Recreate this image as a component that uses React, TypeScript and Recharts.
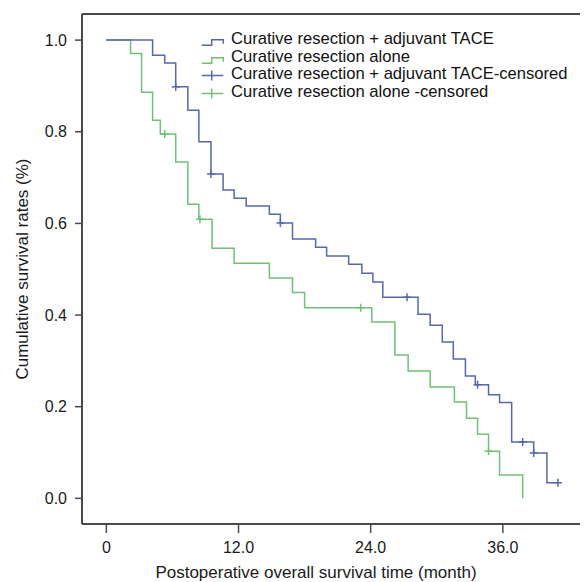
import React from 'react';
import { ComposedChart, Line, Scatter, XAxis, YAxis, Legend } from 'recharts';

// survival curves (time in months, cumulative survival)
const taceTimes = [0, 4.2, 5.3, 6.3, 7.4, 8.4, 9.5, 10.6, 11.6, 12.7, 14.8, 15.8, 16.9, 19.0, 20.0, 22.0, 23.2, 24.2, 25.1, 28.3, 29.4, 30.5, 31.5, 32.6, 33.5, 34.7, 35.7, 36.8, 38.8, 40.0, 41.0];
const taceSurvival = [1.0, 0.967, 0.95, 0.898, 0.847, 0.778, 0.708, 0.673, 0.655, 0.638, 0.62, 0.601, 0.566, 0.548, 0.529, 0.511, 0.491, 0.472, 0.439, 0.402, 0.378, 0.341, 0.304, 0.267, 0.248, 0.226, 0.209, 0.123, 0.099, 0.034, 0.034];
const taceCensorTimes = [6.3, 9.5, 15.8, 27.3, 33.7, 37.8, 38.8, 41.0];
const taceCensorSurvival = [0.898, 0.708, 0.601, 0.439, 0.248, 0.123, 0.099, 0.034];

const aloneTimes = [0, 2.2, 3.2, 4.2, 4.9, 6.3, 7.4, 8.4, 9.6, 11.6, 14.8, 16.9, 18.0, 24.1, 26.2, 27.4, 29.4, 31.6, 32.7, 33.7, 34.7, 35.7, 37.8];
const aloneSurvival = [1.0, 0.971, 0.886, 0.825, 0.795, 0.734, 0.642, 0.609, 0.546, 0.513, 0.481, 0.449, 0.416, 0.385, 0.313, 0.278, 0.243, 0.21, 0.175, 0.14, 0.103, 0.051, 0.0];
const aloneCensorTimes = [5.3, 8.5, 23.1, 34.7];
const aloneCensorSurvival = [0.795, 0.609, 0.416, 0.103];

const xTicks = [0, 12, 24, 36];
const xTickLabels = ['0', '12.0', '24.0', '36.0'];
const yTicks = [0, 0.2, 0.4, 0.6, 0.8, 1.0];

const legendLabels = [
  'Curative resection + adjuvant TACE',
  'Curative resection alone',
  'Curative resection + adjuvant TACE-censored',
  'Curative resection alone -censored',
];

const BLUE = '#5767aa';
const GREEN = '#72c076';
const AXIS = '#4a4a4a';
const FONT = '"Liberation Sans", Arial, sans-serif';

const toPoints = (times: number[], surv: number[]) => times.map((t, i) => ({ t, s: surv[i] }));

const taceData = toPoints(taceTimes, taceSurvival);
const aloneData = toPoints(aloneTimes, aloneSurvival);
const taceCensored = toPoints(taceCensorTimes, taceCensorSurvival);
const aloneCensored = toPoints(aloneCensorTimes, aloneCensorSurvival);

const legendColors = [BLUE, GREEN, BLUE, GREEN];

const censorShape = (color: string) => (props: any) => {
  const { cx, cy } = props;
  return (
    <g>
      <line x1={cx} x2={cx} y1={cy - 4} y2={cy + 4} stroke={color} strokeWidth={1.5} />
      <line x1={cx - 4} x2={cx + 4} y1={cy} y2={cy} stroke={color} strokeWidth={1.5} />
    </g>
  );
};

function KmLegend() {
  return (
    <div style={{ fontFamily: FONT, fontSize: 16.6, lineHeight: '17.5px', color: '#111', whiteSpace: 'nowrap' }}>
      {legendLabels.map((label, i) => (
        <div key={label} style={{ display: 'flex', alignItems: 'center', height: 17.5 }}>
          <svg width={31} height={17.5} style={{ display: 'block' }}>
            {i < 2 ? (
              <path d="M1.7,15.2 H11.7 V9.8 H23.3 V13.8" fill="none" stroke={legendColors[i]} strokeWidth={1.5} />
            ) : (
              <g stroke={legendColors[i]} strokeWidth={1.5}>
                <line x1={1.7} x2={23.3} y1={10.5} y2={10.5} />
                <line x1={11.7} x2={11.7} y1={5.5} y2={15.5} />
              </g>
            )}
          </svg>
          <span>{label}</span>
        </div>
      ))}
    </div>
  );
}

export default function App() {
  return (
    <div style={{ width: 580, height: 574 }}>
      <ComposedChart width={580} height={574} margin={{ top: 5, right: 0, bottom: 0, left: 0 }} style={{ fontFamily: FONT }}>
        <XAxis
          xAxisId="top"
          orientation="top"
          type="number"
          domain={[0, 1]}
          height={1}
          tick={false}
          tickLine={false}
          axisLine={{ stroke: AXIS, strokeWidth: 2 }}
        />
        <XAxis
          dataKey="t"
          type="number"
          domain={[-2.21, 43.73]}
          allowDataOverflow
          ticks={xTicks}
          tickFormatter={(v: number) => xTickLabels[xTicks.indexOf(v)]}
          height={58}
          tickSize={9}
          tickMargin={9}
          axisLine={{ stroke: AXIS, strokeWidth: 2 }}
          tickLine={{ stroke: AXIS, strokeWidth: 1.5 }}
          tick={{ fill: '#1a1a1a', fontSize: 16, fontFamily: FONT }}
          label={{
            value: 'Postoperative overall survival time (month)',
            position: 'insideBottom',
            offset: 4,
            dx: -19,
            style: { fill: '#1a1a1a', fontSize: 17, fontFamily: FONT },
          }}
        />
        <YAxis
          dataKey="s"
          type="number"
          domain={[-0.056, 1.057]}
          allowDataOverflow
          ticks={yTicks}
          tickFormatter={(v: number) => v.toFixed(1)}
          width={74}
          tickSize={7}
          tickMargin={8}
          axisLine={{ stroke: AXIS, strokeWidth: 2 }}
          tickLine={{ stroke: AXIS, strokeWidth: 1.5 }}
          tick={{ fill: '#1a1a1a', fontSize: 16, fontFamily: FONT }}
          label={{
            value: 'Cumulative survival rates (%)',
            angle: -90,
            position: 'insideLeft',
            offset: 14,
            style: { fill: '#1a1a1a', fontSize: 17, fontFamily: FONT, textAnchor: 'middle' },
          }}
        />
        <Legend
          content={() => <KmLegend />}
          layout="vertical"
          align="center"
          verticalAlign="middle"
          wrapperStyle={{ top: 22, left: 192, width: 385 }}
        />
        <Line data={aloneData} dataKey="s" type="stepAfter" stroke={GREEN} strokeWidth={1.5} dot={false} isAnimationActive={false} />
        <Line data={taceData} dataKey="s" type="stepAfter" stroke={BLUE} strokeWidth={1.5} dot={false} isAnimationActive={false} />
        <Scatter data={aloneCensored} dataKey="s" shape={censorShape(GREEN)} isAnimationActive={false} />
        <Scatter data={taceCensored} dataKey="s" shape={censorShape(BLUE)} isAnimationActive={false} />
      </ComposedChart>
    </div>
  );
}
